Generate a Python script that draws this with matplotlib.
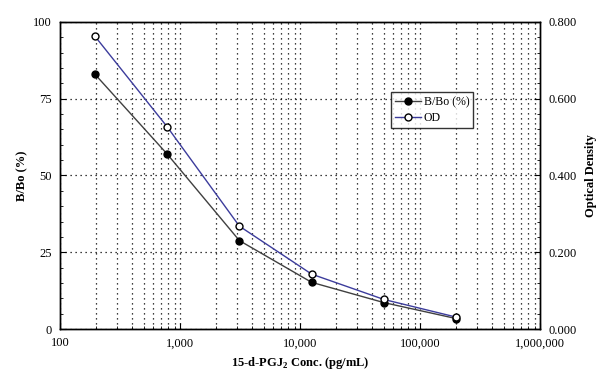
import matplotlib
matplotlib.use("Agg")
import matplotlib.pyplot as plt
from matplotlib.ticker import FuncFormatter, LogLocator, NullFormatter, MultipleLocator
from matplotlib.lines import Line2D

conc = [195.3, 781.3, 3125, 12500, 50000, 200000]
bbo = [83.0, 57.0, 28.8, 15.2, 8.6, 3.4]
od = [0.763, 0.527, 0.268, 0.143, 0.077, 0.031]

plt.rcParams['font.family'] = ['Liberation Serif', 'DejaVu Serif']

fig = plt.figure(figsize=(6, 3.76), dpi=100)
ax = fig.add_axes([0.1, 0.125, 0.8, 0.8165])
ax2 = ax.twinx()

ax.set_xscale('log')
ax.set_xlim(100, 1e6)
ax.set_ylim(0, 100)
ax2.set_ylim(0, 0.8)

ax.plot(conc, bbo, color='#404040', lw=1.0, marker='o', ms=5, mfc='black', mec='black', zorder=3)
ax2.plot(conc, od, color='#3c3c9c', lw=1.0, marker='o', ms=5, mfc='white', mec='black', mew=1.0, zorder=3)

ax.xaxis.set_major_locator(LogLocator(base=10, numticks=10))
ax.xaxis.set_minor_locator(LogLocator(base=10, subs=range(2, 10), numticks=20))
ax.xaxis.set_major_formatter(FuncFormatter(lambda v, p: f"{int(round(v)):,}"))
ax.xaxis.set_minor_formatter(NullFormatter())
ax.yaxis.set_major_locator(MultipleLocator(25))
ax.yaxis.set_minor_locator(MultipleLocator(5))
ax2.yaxis.set_major_locator(MultipleLocator(0.2))
ax2.yaxis.set_minor_locator(MultipleLocator(0.04))
ax2.yaxis.set_major_formatter(FuncFormatter(lambda v, p: f"{v:.3f}"))

ax.grid(True, which='major', axis='both', color='black', ls=(0, (1, 3)), lw=0.9)
ax.grid(True, which='minor', axis='x', color='black', ls=(0, (1, 3)), lw=0.9)

for a in (ax, ax2):
    a.tick_params(which='both', direction='in', labelsize=9, pad=6)
    a.tick_params(which='major', length=4)
    a.tick_params(which='minor', length=2)
    for s in a.spines.values():
        s.set_linewidth(1.0)
ax.tick_params(axis='x', which='both', top=False, pad=6)

ax.set_xlabel('15-d-PGJ$_\\mathregular{2}$ Conc. (pg/mL)', fontsize=9, fontweight='bold', labelpad=4)
ax.set_ylabel('B/Bo (%)', fontsize=9, fontweight='bold', labelpad=3)
ax2.set_ylabel('Optical Density', fontsize=9, fontweight='bold', labelpad=6)

handles = [Line2D([], [], color='#404040', lw=1.0, marker='o', ms=5, mfc='black', mec='black'),
           Line2D([], [], color='#3c3c9c', lw=1.0, marker='o', ms=5, mfc='white', mec='black')]
leg = ax2.legend(handles, ['B/Bo (%)', 'OD'], loc='upper left', bbox_to_anchor=(0.69, 0.772),
                 fontsize=8.5, frameon=True, fancybox=False, edgecolor='black',
                 handlelength=2.2, handletextpad=0.2, borderpad=0.35, labelspacing=0.35, borderaxespad=0)
leg.get_frame().set_linewidth(1.0)

fig.savefig('out.png', dpi=100)
